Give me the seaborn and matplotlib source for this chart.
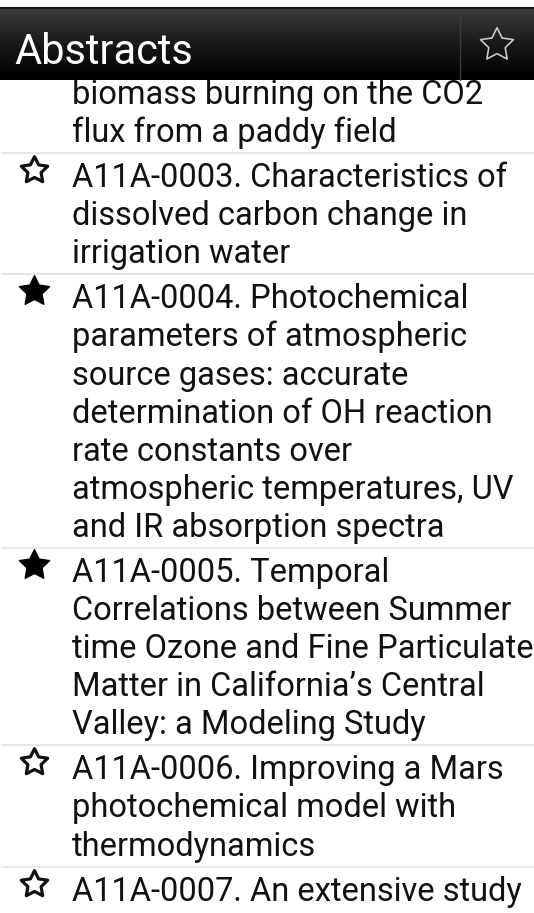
import numpy as np
import pandas as pd
import matplotlib
matplotlib.use("Agg")
import matplotlib.pyplot as plt
from matplotlib.path import Path
from matplotlib.markers import MarkerStyle
import seaborn as sns

# ---------------------------------------------------------
# DATA
# ---------------------------------------------------------

screen_title = "Abstracts"

# wrapped title lines of each list entry, as shown on screen
entry_lines = [
    ["biomass burning on the CO2",
     "flux from a paddy field"],
    ["A11A-0003. Characteristics of",
     "dissolved carbon change in",
     "irrigation water"],
    ["A11A-0004. Photochemical",
     "parameters of atmospheric",
     "source gases: accurate",
     "determination of OH reaction",
     "rate constants over",
     "atmospheric temperatures, UV",
     "and IR absorption spectra"],
    ["A11A-0005. Temporal",
     "Correlations between Summer",
     "time Ozone and Fine Particulate",
     "Matter in California\u2019s Central",
     "Valley: a Modeling Study"],
    ["A11A-0006. Improving a Mars",
     "photochemical model with",
     "thermodynamics"],
    ["A11A-0007. An extensive study"],
]

# None = star scrolled off screen
entry_starred = [None, False, True, True, False, False]

# ---------------------------------------------------------
# STYLE SETTINGS
# ---------------------------------------------------------

sns.set_theme(style="white")
plt.rcParams["font.family"] = ["Roboto", "DejaVu Sans"]

W, H = 534, 913
line_h = 38.1
item_gap = 45
first_baseline = 104
text_x = 72
star_x = 34


def star_path(inner=0.5):
    ang = np.pi / 2 + np.arange(10) * np.pi / 5
    r = np.where(np.arange(10) % 2 == 0, 1.0, inner)
    verts = np.column_stack([r * np.cos(ang), r * np.sin(ang)])
    verts = np.vstack([verts, verts[:1]])
    codes = [Path.MOVETO] + [Path.LINETO] * 9 + [Path.CLOSEPOLY]
    return Path(verts, codes)


star = MarkerStyle(star_path(0.5), joinstyle="round")

fig = plt.figure(figsize=(W / 100, H / 100), dpi=100)
ax = fig.add_axes([0, 0, 1, 1])
ax.set_facecolor("white")

# ---------------------------------------------------------
# LIST ROWS
# ---------------------------------------------------------

rows = []
sep_y = []
y = first_baseline
for lines, starred in zip(entry_lines, entry_starred):
    for i, txt in enumerate(lines):
        ax.text(text_x, y + i * line_h, txt, fontsize=23.5, color="#111111",
                va="baseline", ha="left")
    if starred is not None:
        rows.append({"x": star_x, "y": y - 17, "starred": starred})
    last = y + (len(lines) - 1) * line_h
    sep_y.append(last + 11)
    y = last + item_gap

for s in sep_y[:-1]:
    ax.plot([2, W], [s, s], color="#e2e2e2", lw=1.2)

stars = pd.DataFrame(rows)

sns.scatterplot(
    data=stars[stars["starred"]], x="x", y="y",
    marker=star, s=520, color="black", edgecolor="black",
    linewidth=1.0, ax=ax, legend=False
)
sns.scatterplot(
    data=stars[~stars["starred"]], x="x", y="y",
    marker=star, s=400, facecolor="white", edgecolor="#111111",
    linewidth=2.3, ax=ax, legend=False
)

# ---------------------------------------------------------
# ACTION BAR
# ---------------------------------------------------------

grad = np.linspace(0.30, 0.0, 100) ** 1.2
grad = np.clip(grad, 0, 1)
ax.imshow(np.tile(grad[:, None], (1, 2)), cmap="gray", vmin=0, vmax=1,
          extent=[0, W, 80, 8], aspect="auto", zorder=5)
ax.plot([0, W], [8.5, 8.5], color="#1a1a1a", lw=1.5, zorder=6)
ax.plot([460, 460], [10, 80], color="#3a3a3a", lw=1.0, zorder=6)
ax.text(14, 64, screen_title, fontsize=30, color="white",
        va="baseline", ha="left", zorder=7)
ax.scatter([497], [45], marker=star, s=620, facecolor="none",
           edgecolor="#c8c8c8", linewidths=1.2, zorder=7)

ax.set_xlim(0, W)
ax.set_ylim(H, 0)
ax.axis("off")

plt.savefig("out.png", dpi=100)
